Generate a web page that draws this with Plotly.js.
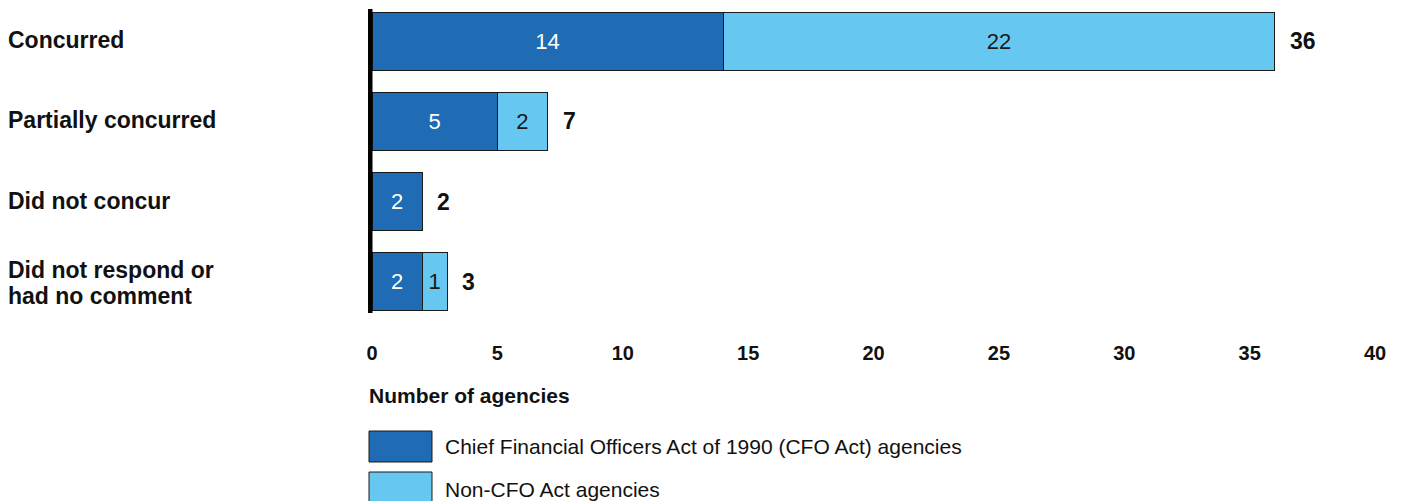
<!DOCTYPE html>
<html>
<head>
<meta charset="utf-8">
<script src="https://cdn.plot.ly/plotly-3.0.1.min.js"></script>
<style>html,body{margin:0;padding:0;background:#fff;}#chart{width:1401px;height:501px;}</style>
</head>
<body>
<div id="chart"></div>
<script>
const categories = ["Concurred", "Partially concurred", "Did not concur", "Did not respond or<br>had no comment"];
const cfoValues = [14, 5, 2, 2];
const nonCfoValues = [22, 2, 0, 1];
const totals = [36, 7, 2, 3];
const seriesNames = ["Chief Financial Officers Act of 1990 (CFO Act) agencies", "Non-CFO Act agencies"];
const xTicks = [0, 5, 10, 15, 20, 25, 30, 35, 40];
const axisTitle = "Number of agencies";

const FONT = "Liberation Sans, Arial, sans-serif";
const DARK = "#1f6bb4";
const LIGHT = "#66c7f0";

function px2x(p) { return (p - 372) / 1003; }
function px2y(p) { return (322 - p) / 321; }

const traces = [
  {
    type: "bar", orientation: "h", name: seriesNames[0],
    y: categories, x: cfoValues, width: 0.72,
    marker: {color: DARK, line: {color: "#1a1a1a", width: 1}},
    text: cfoValues.map(v => v > 0 ? String(v) : ""),
    textposition: "inside", insidetextanchor: "middle", textangle: 0,
    constraintext: "none",
    textfont: {family: FONT, size: 22, color: "#ffffff"},
    hoverinfo: "skip"
  },
  {
    type: "bar", orientation: "h", name: seriesNames[1],
    y: categories, x: nonCfoValues, width: 0.72,
    marker: {color: LIGHT, line: {color: "#1a1a1a", width: 1}},
    text: nonCfoValues.map(v => v > 0 ? String(v) : ""),
    textposition: "inside", insidetextanchor: "middle", textangle: 0,
    constraintext: "none",
    textfont: {family: FONT, size: 22, color: "#1a1a1a"},
    hoverinfo: "skip"
  }
];

const annotations = [];
categories.forEach((c, i) => {
  const lines = c.split("<br>");
  lines.forEach((ln, k) => {
    annotations.push({
      xref: "paper", yref: "y", x: px2x(6), y: c, xanchor: "left", yanchor: "middle",
      yshift: lines.length > 1 ? (13 - k * 26 - 1) : 1,
      text: ln, align: "left", showarrow: false,
      font: {family: FONT, size: 23, color: "#111", weight: "bold"}
    });
  });
  annotations.push({
    xref: "x", yref: "y", x: totals[i], y: c, xanchor: "left", yanchor: "middle",
    xshift: 13, text: String(totals[i]), showarrow: false,
    font: {family: FONT, size: 23, color: "#111", weight: "bold"}
  });
});
annotations.push({
  xref: "paper", yref: "paper", x: px2x(367), y: px2y(395), xanchor: "left", yanchor: "middle",
  text: axisTitle, showarrow: false,
  font: {family: FONT, size: 21, color: "#111", weight: "bold"}
});
annotations.push({
  xref: "paper", yref: "paper", x: px2x(443), y: px2y(446), xanchor: "left", yanchor: "middle",
  text: seriesNames[0], showarrow: false,
  font: {family: FONT, size: 21, color: "#111"}
});
annotations.push({
  xref: "paper", yref: "paper", x: px2x(443), y: px2y(489), xanchor: "left", yanchor: "middle",
  text: seriesNames[1], showarrow: false,
  font: {family: FONT, size: 21, color: "#111"}
});

const shapes = [
  {type: "rect", xref: "paper", yref: "paper", x0: px2x(368), x1: px2x(372.5),
   y0: px2y(313), y1: px2y(9), fillcolor: "#000", line: {width: 0}},
  {type: "rect", xref: "paper", yref: "paper", x0: px2x(369), x1: px2x(432), y0: px2y(462), y1: px2y(431),
   fillcolor: DARK, line: {color: "#1a1a1a", width: 1}},
  {type: "rect", xref: "paper", yref: "paper", x0: px2x(369), x1: px2x(432), y0: px2y(504), y1: px2y(472),
   fillcolor: LIGHT, line: {color: "#1a1a1a", width: 1}}
];

const layout = {
  width: 1401, height: 501,
  margin: {l: 372, r: 26, t: 1, b: 179},
  barmode: "stack",
  showlegend: false,
  hovermode: false,
  paper_bgcolor: "#fff", plot_bgcolor: "#fff",
  xaxis: {
    range: [0, 40], tickvals: xTicks, ticktext: xTicks.map(String),
    showgrid: false, zeroline: false, showline: false,
    ticks: "outside", ticklen: 13, tickcolor: "rgba(0,0,0,0)",
    tickfont: {family: FONT, size: 20, color: "#111", weight: "bold"},
    fixedrange: true
  },
  yaxis: {
    type: "category", categoryarray: categories, categoryorder: "array",
    range: [3.5, -0.5], showticklabels: false, showgrid: false, zeroline: false,
    showline: false, ticks: "", fixedrange: true
  },
  annotations: annotations,
  shapes: shapes
};

Plotly.newPlot("chart", traces, layout, {displayModeBar: false, staticPlot: true});
</script>
</body>
</html>
